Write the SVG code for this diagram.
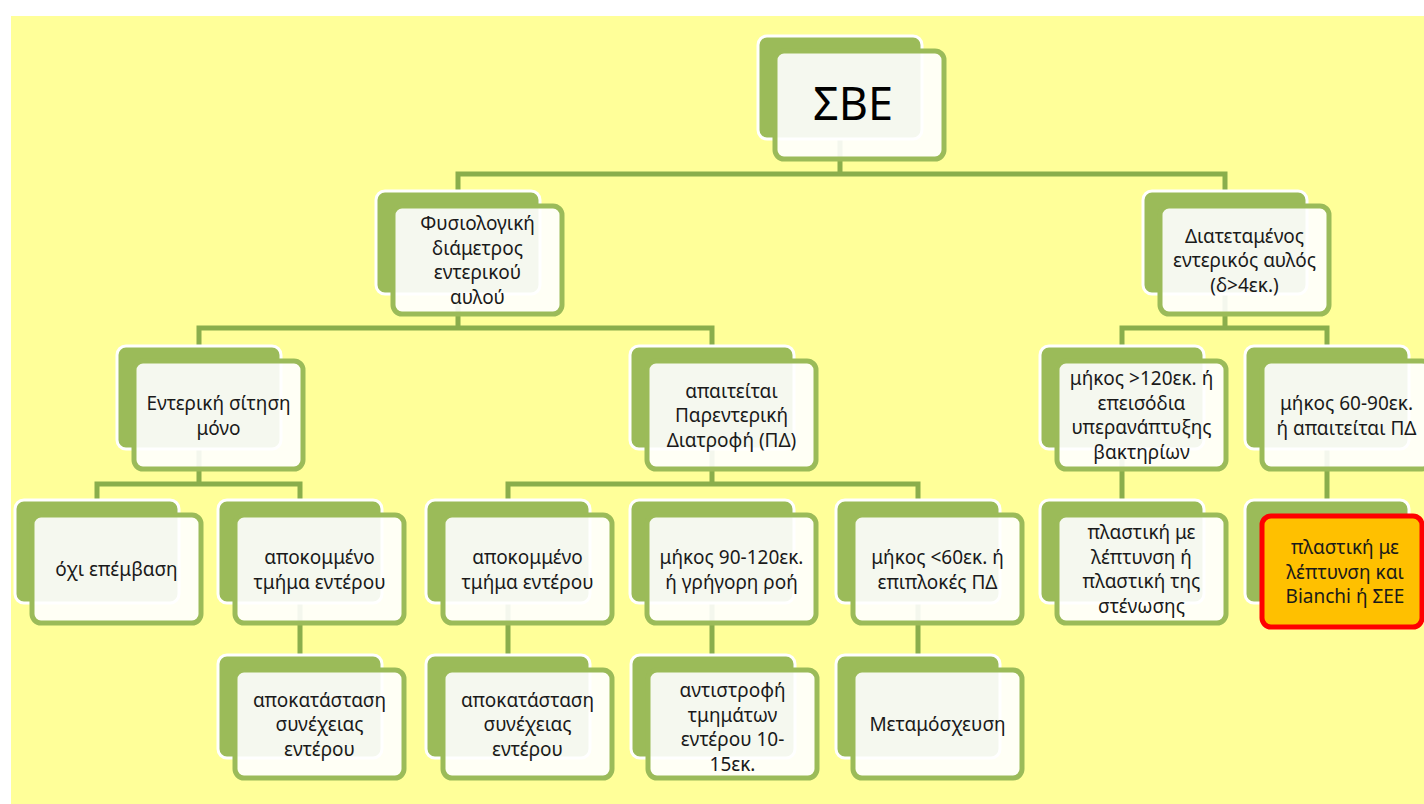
<svg xmlns="http://www.w3.org/2000/svg" width="1424" height="804" viewBox="0 0 1424 804">
<defs>
<style>
.bg{fill:#FFFF99}
.back{fill:#9BBB59;stroke:#FFFFFF;stroke-width:3}
.front{fill:#FFFFFF;fill-opacity:0.9;stroke:#9BBB59;stroke-width:5}
.hl{fill:#FFC000;stroke:#FF0000;stroke-width:5}
.t{font-family:"Noto Sans","DejaVu Sans",sans-serif;font-size:19px;fill:#1a1a1a;text-anchor:middle;dominant-baseline:central}
.big{font-size:45px;fill:#000}
.conn{fill:none;stroke:#8AAE4C;stroke-width:5}
</style>
</defs>
<rect class="bg" x="11" y="16" width="1413" height="788"/>
<g id="connectors">
<path class="conn" d="M840,138 V174 M458,191 V174 H1225 V191"/>
<path class="conn" d="M458,294 V328 M199,346 V328 H712 V346"/>
<path class="conn" d="M1225,294 V328 M1122,346 V328 H1327 V346"/>
<path class="conn" d="M199,449 V484 M97,500 V484 H300 V500"/>
<path class="conn" d="M712,449 V484 M508,500 V484 H918 V500"/>
<path class="conn" d="M1122,449 V500 M1327,449 V500"/>
<path class="conn" d="M300,603 V655 M508,603 V655 M712,603 V655 M918,603 V655"/>
</g>
<g id="n1">
<rect class="back" x="758" y="36" width="164" height="103" rx="9"/>
<rect class="front" x="775" y="51" width="169" height="108" rx="9"/>
<text class="t big" x="853" y="102">ΣΒΕ</text>
</g>
<g id="n2">
<rect class="back" x="376" y="191" width="164" height="103" rx="9"/>
<rect class="front" x="393" y="206" width="169" height="108" rx="9"/>
<text class="t" x="477.5" y="223">Φυσιολογική</text>
<text class="t" x="477.5" y="247.5">διάμετρος</text>
<text class="t" x="477.5" y="272">εντερικού</text>
<text class="t" x="477.5" y="296.5">αυλού</text>
</g>
<g id="n3">
<rect class="back" x="1143" y="191" width="164" height="103" rx="9"/>
<rect class="front" x="1160" y="206" width="169" height="108" rx="9"/>
<text class="t" x="1244.5" y="235.5">Διατεταμένος</text>
<text class="t" x="1244.5" y="260">εντερικός αυλός</text>
<text class="t" x="1244.5" y="284.5">(δ&gt;4εκ.)</text>
</g>
<g id="n4">
<rect class="back" x="117" y="346" width="164" height="103" rx="9"/>
<rect class="front" x="134" y="361" width="169" height="108" rx="9"/>
<text class="t" x="218.5" y="403">Εντερική σίτηση</text>
<text class="t" x="218.5" y="427.5">μόνο</text>
</g>
<g id="n5">
<rect class="back" x="630" y="346" width="164" height="103" rx="9"/>
<rect class="front" x="647" y="361" width="169" height="108" rx="9"/>
<text class="t" x="731.5" y="390.5">απαιτείται</text>
<text class="t" x="731.5" y="415">Παρεντερική</text>
<text class="t" x="731.5" y="439.5">Διατροφή (ΠΔ)</text>
</g>
<g id="n6">
<rect class="back" x="1040" y="346" width="164" height="103" rx="9"/>
<rect class="front" x="1057" y="361" width="169" height="108" rx="9"/>
<text class="t" x="1141.5" y="378">μήκος &gt;120εκ. ή</text>
<text class="t" x="1141.5" y="402.5">επεισόδια</text>
<text class="t" x="1141.5" y="427">υπερανάπτυξης</text>
<text class="t" x="1141.5" y="451.5">βακτηρίων</text>
</g>
<g id="n7">
<rect class="back" x="1245" y="346" width="164" height="103" rx="9"/>
<rect class="front" x="1262" y="361" width="169" height="108" rx="9"/>
<text class="t" x="1346.5" y="403">μήκος 60-90εκ.</text>
<text class="t" x="1346.5" y="427.5">ή απαιτείται ΠΔ</text>
</g>
<g id="n8">
<rect class="back" x="15" y="500" width="164" height="103" rx="9"/>
<rect class="front" x="32" y="515" width="169" height="108" rx="9"/>
<text class="t" x="116.5" y="569">όχι επέμβαση</text>
</g>
<g id="n9">
<rect class="back" x="218" y="500" width="164" height="103" rx="9"/>
<rect class="front" x="235" y="515" width="169" height="108" rx="9"/>
<text class="t" x="319.5" y="557">αποκομμένο</text>
<text class="t" x="319.5" y="581.5">τμήμα εντέρου</text>
</g>
<g id="n10">
<rect class="back" x="426" y="500" width="164" height="103" rx="9"/>
<rect class="front" x="443" y="515" width="169" height="108" rx="9"/>
<text class="t" x="527.5" y="557">αποκομμένο</text>
<text class="t" x="527.5" y="581.5">τμήμα εντέρου</text>
</g>
<g id="n11">
<rect class="back" x="630" y="500" width="164" height="103" rx="9"/>
<rect class="front" x="647" y="515" width="169" height="108" rx="9"/>
<text class="t" x="731.5" y="557">μήκος 90-120εκ.</text>
<text class="t" x="731.5" y="581.5">ή γρήγορη ροή</text>
</g>
<g id="n12">
<rect class="back" x="836" y="500" width="164" height="103" rx="9"/>
<rect class="front" x="853" y="515" width="169" height="108" rx="9"/>
<text class="t" x="937.5" y="557">μήκος &lt;60εκ. ή</text>
<text class="t" x="937.5" y="581.5">επιπλοκές ΠΔ</text>
</g>
<g id="n13">
<rect class="back" x="1040" y="500" width="164" height="103" rx="9"/>
<rect class="front" x="1057" y="515" width="169" height="108" rx="9"/>
<text class="t" x="1141.5" y="532">πλαστική με</text>
<text class="t" x="1141.5" y="556.5">λέπτυνση ή</text>
<text class="t" x="1141.5" y="581">πλαστική της</text>
<text class="t" x="1141.5" y="605.5">στένωσης</text>
</g>
<g id="n14">
<rect class="back" x="1245" y="500" width="164" height="103" rx="9"/>
<rect class="hl" x="1262" y="516" width="160" height="111" rx="9"/>
<text class="t" x="1345" y="547">πλαστική με</text>
<text class="t" x="1345" y="571.5">λέπτυνση και</text>
<text class="t" x="1345" y="596">Bianchi ή ΣΕΕ</text>
</g>
<g id="n15">
<rect class="back" x="218" y="655" width="164" height="103" rx="9"/>
<rect class="front" x="235" y="670" width="169" height="108" rx="9"/>
<text class="t" x="319.5" y="699.5">αποκατάσταση</text>
<text class="t" x="319.5" y="724">συνέχειας</text>
<text class="t" x="319.5" y="748.5">εντέρου</text>
</g>
<g id="n16">
<rect class="back" x="426" y="655" width="164" height="103" rx="9"/>
<rect class="front" x="443" y="670" width="169" height="108" rx="9"/>
<text class="t" x="527.5" y="699.5">αποκατάσταση</text>
<text class="t" x="527.5" y="724">συνέχειας</text>
<text class="t" x="527.5" y="748.5">εντέρου</text>
</g>
<g id="n17">
<rect class="back" x="631" y="655" width="164" height="103" rx="9"/>
<rect class="front" x="648" y="670" width="169" height="108" rx="9"/>
<text class="t" x="732.5" y="690">αντιστροφή</text>
<text class="t" x="732.5" y="714.5">τμημάτων</text>
<text class="t" x="732.5" y="739">εντέρου 10-</text>
<text class="t" x="732.5" y="763.5">15εκ.</text>
</g>
<g id="n18">
<rect class="back" x="836" y="655" width="164" height="103" rx="9"/>
<rect class="front" x="853" y="670" width="169" height="108" rx="9"/>
<text class="t" x="937.5" y="724">Μεταμόσχευση</text>
</g>
</svg>
